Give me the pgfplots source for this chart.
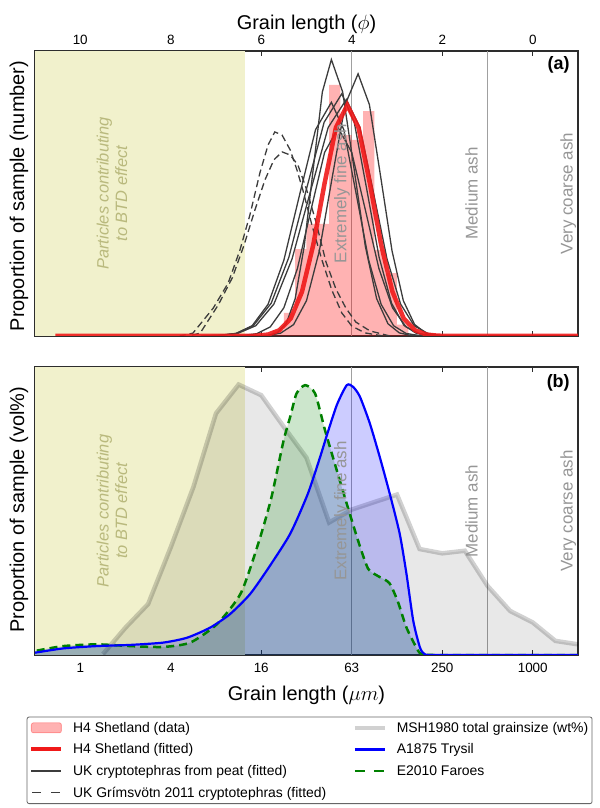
\documentclass[border=0pt]{standalone}
\usepackage{fontspec}
\setmainfont{Liberation Sans}
\usepackage{pgfplots}
\pgfplotsset{compat=1.18}

\definecolor{btd}{RGB}{241,241,204}
\definecolor{btdtext}{RGB}{185,185,125}
\definecolor{ashtext}{RGB}{150,150,150}
\definecolor{vline}{RGB}{160,160,160}
\definecolor{peat}{RGB}{60,60,60}
\definecolor{h4}{RGB}{240,25,25}
\definecolor{faroe}{RGB}{0,128,0}
\definecolor{frame}{RGB}{45,45,45}

\tikzset{
  ashlbl/.style={rotate=90, anchor=base, inner sep=0pt, font=\fontsize{17}{19}\selectfont, text=ashtext},
  btdlbl/.style={rotate=90, align=center, font=\fontsize{16.5}{18.5}\selectfont\itshape, text=btdtext},
}
\pgfplotsset{
  panel/.style={
    anchor=south west, scale only axis, width=543bp,
    xmin=-1, xmax=11, x dir=reverse, ymin=0, ymax=1,
    ytick=\empty, xtick={10,8,6,4,2,0},
    tick align=inside, major tick length=5bp,
    tick style={color=frame, line width=0.8bp},
    axis line style={color=frame, line width=1.2bp},
    ticklabel style={font=\fontsize{13.5}{15}\selectfont, text=black},
  },
  leg data/.style={legend image code/.code={\fill[red, opacity=0.3] (0bp,-5bp) rectangle (30bp,5bp);}},
  leg fit/.style={legend image code/.code={\draw[h4, line width=4bp] (0bp,0bp) -- (30bp,0bp);}},
  leg peat/.style={legend image code/.code={\draw[peat, line width=1.3bp] (0bp,0bp) -- (30bp,0bp);}},
  leg grims/.style={legend image code/.code={\draw[peat, line width=1.3bp, dash pattern=on 9bp off 10bp] (1bp,0bp) -- (30bp,0bp);}},
  leg msh/.style={legend image code/.code={\draw[black, opacity=0.18, line width=4.5bp] (0bp,0bp) -- (30bp,0bp);}},
  leg blue/.style={legend image code/.code={\draw[blue, line width=2.2bp] (0bp,0bp) -- (30bp,0bp);}},
  leg green/.style={legend image code/.code={\draw[faroe, line width=2.5bp, dash pattern=on 10bp off 9bp] (0bp,0bp) -- (30bp,0bp);}},
}

\begin{document}
\begin{tikzpicture}
\useasboundingbox (0bp,0bp) rectangle (600bp,808bp);

% ---------------- panel (a)
\begin{axis}[panel, at={(35bp,472bp)}, height=285bp,
  xticklabels={10,8,6,4,2,0}, xticklabel pos=upper, xticklabel shift=2.5bp]
\addplot[draw=none, fill=btd, forget plot] coordinates {(11,1) (6.36,1)} \closedcycle;
\addplot[vline, line width=0.8bp, forget plot] coordinates {(4,0) (4,1)};
\addplot[vline, line width=0.8bp, forget plot] coordinates {(1,0) (1,1)};
% H4 Shetland data (histogram, 0.25 phi bins)
\addplot[ybar interval, fill=red, fill opacity=0.3, draw=none, forget plot] coordinates {
 (2.75,0.04) (3.0,0.221) (3.25,0.302) (3.5,0.789) (3.75,0.688) (4.0,0.705)
 (4.25,0.881) (4.5,0.393) (4.75,0.393) (5.0,0.305) (5.25,0.081) (5.5,0.02) (5.75,0.02)};
% UK cryptotephras from peat (fitted)
\addplot[peat, line width=1.3bp, forget plot] coordinates {
 (2.45,0) (2.7,0.002) (2.95,0.011) (3.2,0.043) (3.45,0.131) (3.7,0.315) (3.95,0.588) (4.2,0.856) (4.45,0.97)
 (4.65,0.856) (4.85,0.588) (5.05,0.315) (5.25,0.131) (5.45,0.043) (5.65,0.011) (5.85,0.002) (6.05,0)};
\addplot[peat, line width=1.3bp, forget plot] coordinates {
 (1.86,0) (2.11,0.002) (2.36,0.010) (2.61,0.040) (2.86,0.124) (3.11,0.299) (3.36,0.558) (3.61,0.812) (3.86,0.92)
 (4.145,0.812) (4.43,0.558) (4.715,0.299) (5.0,0.124) (5.285,0.040) (5.57,0.010) (5.855,0.002) (6.14,0)};
\addplot[peat, line width=1.3bp, forget plot] coordinates {
 (2.02,0) (2.295,0.002) (2.57,0.009) (2.845,0.037) (3.12,0.115) (3.395,0.276) (3.67,0.516) (3.945,0.750) (4.22,0.85)
 (4.61,0.750) (5.0,0.516) (5.39,0.276) (5.78,0.115) (6.17,0.037) (6.56,0.009) (6.95,0.002) (7.34,0)};
\addplot[peat, line width=1.3bp, forget plot] coordinates {
 (1.72,0) (2.02,0.002) (2.32,0.009) (2.62,0.036) (2.92,0.112) (3.22,0.270) (3.52,0.503) (3.82,0.732) (4.12,0.83)
 (4.52,0.732) (4.92,0.503) (5.32,0.270) (5.72,0.112) (6.12,0.036) (6.52,0.009) (6.92,0.002) (7.32,0)};
\addplot[peat, line width=1.3bp, forget plot] coordinates {
 (2.25,0) (2.525,0.002) (2.8,0.009) (3.075,0.036) (3.35,0.111) (3.625,0.266) (3.9,0.497) (4.175,0.724) (4.45,0.82)
 (4.8,0.724) (5.15,0.497) (5.5,0.266) (5.85,0.111) (6.2,0.036) (6.55,0.009) (6.9,0.002) (7.25,0)};
\addplot[peat, line width=1.3bp, forget plot] coordinates {
 (1.9,0) (2.2,0.002) (2.5,0.008) (2.8,0.032) (3.1,0.099) (3.4,0.237) (3.7,0.443) (4.0,0.644) (4.3,0.73)
 (4.6,0.644) (4.9,0.443) (5.2,0.237) (5.5,0.099) (5.8,0.032) (6.1,0.008) (6.4,0.002) (6.7,0)};
% UK Grimsvotn 2011 cryptotephras (fitted)
\addplot[peat, line width=1.3bp, dash pattern=on 7bp off 4bp, forget plot] coordinates {
 (3.31,0) (3.71,0.011) (4.00,0.035) (4.22,0.081) (4.44,0.161) (4.66,0.267) (4.88,0.389) (5.08,0.512)
 (5.21,0.582) (5.36,0.653) (5.54,0.705) (5.70,0.716) (5.85,0.670) (6.03,0.572) (6.25,0.425) (6.47,0.302)
 (6.73,0.186) (7.06,0.098) (7.51,0.01) (7.8,0)};
\addplot[peat, line width=1.3bp, dash pattern=on 7bp off 4bp, forget plot] coordinates {
 (3.16,0) (3.60,0.018) (3.91,0.049) (4.13,0.098) (4.35,0.165) (4.57,0.26) (4.79,0.40) (5.01,0.52)
 (5.19,0.60) (5.36,0.635) (5.54,0.646) (5.72,0.618) (5.92,0.547) (6.14,0.442) (6.38,0.319) (6.64,0.204)
 (6.95,0.109) (7.35,0.01) (7.6,0)};
% H4 Shetland fitted
\addplot[h4, line width=4.5bp, opacity=0.9, forget plot] coordinates {
 (10.55,0) (6.5,0) (6.1,0.001) (5.85,0.005) (5.6,0.020) (5.35,0.061) (5.1,0.155) (4.85,0.320) (4.6,0.536)
 (4.35,0.731) (4.1,0.81) (3.85,0.731) (3.6,0.536) (3.35,0.320) (3.1,0.155) (2.85,0.061) (2.6,0.020)
 (2.35,0.005) (2.1,0.001) (1.7,0) (-1,0)};
\node[btdlbl] at (axis cs:9.3,0.5) {Particles contributing\\to BTD effect};
\node[ashlbl] at (axis cs:4.12,0.5) {Extremely fine ash};
\node[ashlbl] at (axis cs:1.22,0.5) {Medium ash};
\node[ashlbl] at (axis cs:-0.88,0.5) {Very coarse ash};
\node[anchor=north east, inner sep=0pt, font=\fontsize{18}{20}\selectfont\bfseries] at (axis description cs:0.985,0.98) {(a)};
\end{axis}

% ---------------- panel (b)
\begin{axis}[panel, at={(35bp,153bp)}, height=288bp,
  xticklabels={1,4,16,63,250,1000}, xticklabel shift=4.5bp,
  legend columns=2,
  legend style={at={(-0.0153,-0.214)}, anchor=north west, draw=black!60, line width=0.8bp,
    rounded corners=2bp, font=\fontsize{14}{16}\selectfont, inner xsep=2.3bp, inner ysep=3.5bp,
    row sep=7bp, cells={anchor=west}, nodes={inner sep=1.5bp},
    /tikz/every odd column/.append style={column sep=8.2bp},
    /tikz/every even column/.append style={column sep=24.8bp}},
]
\addlegendimage{leg data}\addlegendentry{H4 Shetland (data)}
\addlegendimage{leg msh}\addlegendentry{MSH1980 total grainsize (wt\%)}
\addlegendimage{leg fit}\addlegendentry{H4 Shetland (fitted)}
\addlegendimage{leg blue}\addlegendentry{A1875 Trysil}
\addlegendimage{leg peat}\addlegendentry{UK cryptotephras from peat (fitted)}
\addlegendimage{leg green}\addlegendentry{E2010 Faroes}
\addlegendimage{leg grims}\addlegendentry{UK Grímsvötn 2011 cryptotephras (fitted)}

\addplot[draw=none, fill=btd, forget plot] coordinates {(11,1) (6.36,1)} \closedcycle;
\addplot[vline, line width=0.8bp, forget plot] coordinates {(4,0) (4,1)};
\addplot[vline, line width=0.8bp, forget plot] coordinates {(1,0) (1,1)};
% MSH1980 total grainsize
\addplot[draw=none, fill=black, fill opacity=0.09, forget plot] coordinates {
 (9.5,0.003) (9.0,0.095) (8.5,0.177) (8.0,0.374) (7.5,0.583) (7.0,0.839) (6.5,0.939) (6.0,0.902)
 (5.5,0.792) (5.0,0.685) (4.5,0.460) (4.0,0.505) (3.0,0.557) (2.5,0.368) (2.0,0.353) (1.5,0.362)
 (1.0,0.240) (0.5,0.153) (0.0,0.113) (-0.5,0.049) (-1.0,0.037)} \closedcycle;
\addplot[black, opacity=0.18, line width=4.5bp, forget plot] coordinates {
 (9.5,0.003) (9.0,0.095) (8.5,0.177) (8.0,0.374) (7.5,0.583) (7.0,0.839) (6.5,0.939) (6.0,0.902)
 (5.5,0.792) (5.0,0.685) (4.5,0.460) (4.0,0.505) (3.0,0.557) (2.5,0.368) (2.0,0.353) (1.5,0.362)
 (1.0,0.240) (0.5,0.153) (0.0,0.113) (-0.5,0.049) (-1.0,0.037)};
% E2010 Faroes
\addplot[draw=none, fill=faroe, fill opacity=0.2, smooth, tension=0.4, forget plot] coordinates {
 (-1,0) (2.2,0) (2.43,0.003) (2.53,0.014) (2.79,0.095) (2.98,0.185) (3.17,0.25) (3.43,0.275) (3.64,0.30)
 (3.86,0.397) (4.11,0.525) (4.33,0.641) (4.59,0.780) (4.81,0.908) (5.03,0.937) (5.22,0.908) (5.36,0.827)
 (5.51,0.742) (5.78,0.544) (6.06,0.39) (6.45,0.215) (6.98,0.107) (7.57,0.043) (8.17,0.028) (8.90,0.031)
 (9.63,0.037) (10.37,0.031) (11,0.014)} \closedcycle;
% A1875 Trysil
\addplot[draw=none, fill=blue, fill opacity=0.2, smooth, tension=0.4, forget plot] coordinates {
 (-1,0) (1.9,0) (2.16,0) (2.38,0.002) (2.49,0.025) (2.64,0.118) (2.79,0.281) (2.94,0.421) (3.16,0.560)
 (3.38,0.687) (3.60,0.804) (3.82,0.897) (3.97,0.931) (4.11,0.937) (4.33,0.868) (4.55,0.763) (4.70,0.687)
 (4.97,0.560) (5.36,0.421) (5.85,0.300) (6.25,0.211) (6.69,0.142) (7.13,0.095) (7.64,0.060) (8.17,0.043)
 (8.90,0.035) (9.63,0.031) (10.37,0.023) (11,0.008)} \closedcycle;
\addplot[faroe, line width=2.5bp, dash pattern=on 8bp off 5bp, smooth, tension=0.4, forget plot] coordinates {
 (-1,0) (2.2,0) (2.43,0.003) (2.53,0.014) (2.79,0.095) (2.98,0.185) (3.17,0.25) (3.43,0.275) (3.64,0.30)
 (3.86,0.397) (4.11,0.525) (4.33,0.641) (4.59,0.780) (4.81,0.908) (5.03,0.937) (5.22,0.908) (5.36,0.827)
 (5.51,0.742) (5.78,0.544) (6.06,0.39) (6.45,0.215) (6.98,0.107) (7.57,0.043) (8.17,0.028) (8.90,0.031)
 (9.63,0.037) (10.37,0.031) (11,0.014)};
\addplot[blue, line width=2.2bp, smooth, tension=0.4, forget plot] coordinates {
 (-1,0) (1.9,0) (2.16,0) (2.38,0.002) (2.49,0.025) (2.64,0.118) (2.79,0.281) (2.94,0.421) (3.16,0.560)
 (3.38,0.687) (3.60,0.804) (3.82,0.897) (3.97,0.931) (4.11,0.937) (4.33,0.868) (4.55,0.763) (4.70,0.687)
 (4.97,0.560) (5.36,0.421) (5.85,0.300) (6.25,0.211) (6.69,0.142) (7.13,0.095) (7.64,0.060) (8.17,0.043)
 (8.90,0.035) (9.63,0.031) (10.37,0.023) (11,0.008)};
\node[btdlbl] at (axis cs:9.3,0.5) {Particles contributing\\to BTD effect};
\node[ashlbl] at (axis cs:4.12,0.5) {Extremely fine ash};
\node[ashlbl] at (axis cs:1.22,0.5) {Medium ash};
\node[ashlbl] at (axis cs:-0.88,0.5) {Very coarse ash};
\node[anchor=north east, inner sep=0pt, font=\fontsize{18}{20}\selectfont\bfseries] at (axis description cs:0.985,0.975) {(b)};
\end{axis}

\node[anchor=base, font=\fontsize{20}{24}\selectfont] at (306.5bp,778bp) {Grain length ($\phi$)};
\node[anchor=base, font=\fontsize{20}{24}\selectfont] at (306.5bp,107bp) {Grain length ($\mu m$)};
\node[anchor=base, rotate=90, font=\fontsize{20}{24}\selectfont] at (24bp,612bp) {Proportion of sample (number)};
\node[anchor=base, rotate=90, font=\fontsize{20}{24}\selectfont] at (24bp,298bp) {Proportion of sample (vol\%)};
\end{tikzpicture}
\end{document}
